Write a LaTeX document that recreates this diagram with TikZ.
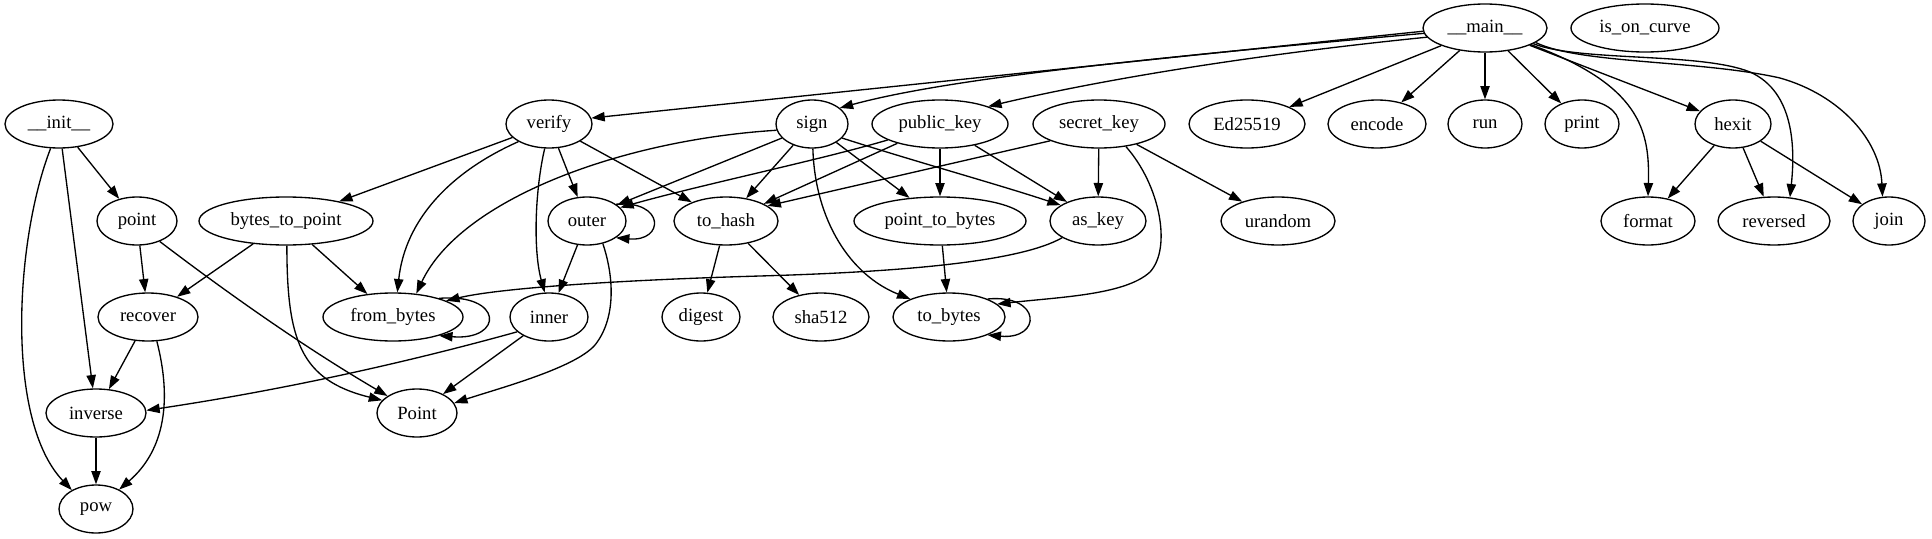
\documentclass[tikz,border=0pt]{standalone}
\usepackage{fontspec}
\setmainfont{Liberation Serif}
\usetikzlibrary{shapes.geometric,arrows.meta}
\begin{document}
\begin{tikzpicture}[x=0.75pt,y=-0.75pt,
  nd/.style={ellipse,draw,line width=1pt,inner sep=0pt,minimum height=36pt,font=\fontsize{14}{16}\selectfont},
  ed/.style={line width=1pt,-{Triangle[length=10pt,width=7pt]}}]
\useasboundingbox (0,0) rectangle (1932,539);
% nodes
\node[nd,minimum width=81pt]   (init)      at (59,124)  {\_\_init\_\_};
\node[nd,minimum width=60pt]   (pointf)    at (137,221) {point};
\node[nd,minimum width=130.5pt](btp)       at (286,221) {bytes\_to\_point};
\node[nd,minimum width=75pt]   (recover)   at (148,317) {recover};
\node[nd,minimum width=105pt]  (frombytes) at (393,317) {from\_bytes};
\node[nd,minimum width=75pt]   (inverse)   at (96,413)  {inverse};
\node[nd,minimum width=60pt]   (PointC)    at (417,413) {Point};
\node[nd,minimum width=55.5pt] (pow)       at (96,509)  {pow};
\node[nd,minimum width=64.5pt] (verify)    at (549,124) {verify};
\node[nd,minimum width=54pt]   (sign)      at (812,124) {sign};
\node[nd,minimum width=102pt]  (pubkey)    at (940,124) {public\_key};
\node[nd,minimum width=58.5pt] (outer)     at (587,221) {outer};
\node[nd,minimum width=78pt]   (tohash)    at (726,221) {to\_hash};
\node[nd,minimum width=129pt]  (ptb)       at (940,221) {point\_to\_bytes};
\node[nd,minimum width=58.5pt] (inner)     at (549,317) {inner};
\node[nd,minimum width=58.5pt] (digest)    at (701,317) {digest};
\node[nd,minimum width=72pt]   (sha)       at (821,317) {sha512};
\node[nd,minimum width=84pt]   (tobytes)   at (949,317) {to\_bytes};
\node[nd,minimum width=99pt]   (seckey)    at (1099,124) {secret\_key};
\node[nd,minimum width=87pt]   (ed)        at (1247,124) {Ed25519};
\node[nd,minimum width=73.5pt] (encode)    at (1377,124) {encode};
\node[nd,minimum width=72pt]   (askey)     at (1098,221) {as\_key};
\node[nd,minimum width=85.5pt] (urandom)   at (1278,221) {urandom};
\node[nd,minimum width=93pt]   (main)      at (1485,28)  {\_\_main\_\_};
\node[nd,minimum width=111pt]  (ioc)       at (1645,28)  {is\_on\_curve};
\node[nd,minimum width=55.5pt] (run)       at (1485,124) {run};
\node[nd,minimum width=55.5pt] (print)     at (1582,124) {print};
\node[nd,minimum width=57pt]   (hexit)     at (1733,124) {hexit};
\node[nd,minimum width=70.5pt] (format)    at (1648,221) {format};
\node[nd,minimum width=84pt]   (reversed)  at (1774,221) {reversed};
\node[nd,minimum width=54pt]   (join)      at (1889,221) {join};
% straight edges
\draw[ed] (init) -- (pointf);
\draw[ed] (init) -- (inverse);
\draw[ed] (pointf) -- (recover);
\draw[ed] (btp) -- (recover);
\draw[ed] (btp) -- (frombytes);
\draw[ed] (recover) -- (inverse);
\draw[ed] (inverse) -- (pow);
\draw[ed] (inner) -- (PointC);
\draw[ed] (outer) -- (inner);
\draw[ed] (verify) -- (btp);
\draw[ed] (verify) -- (outer);
\draw[ed] (verify) -- (tohash);
\draw[ed] (sign) -- (tohash);
\draw[ed] (pubkey) -- (tohash);
\draw[ed] (sign) -- (ptb);
\draw[ed] (pubkey) -- (ptb);
\draw[ed] (pubkey) -- (askey);
\draw[ed] (seckey) -- (askey);
\draw[ed] (ptb) -- (tobytes);
\draw[ed] (tohash) -- (digest);
\draw[ed] (tohash) -- (sha);
\draw[ed] (seckey) -- (urandom);
\draw[ed] (main) -- (ed);
\draw[ed] (main) -- (encode);
\draw[ed] (main) -- (run);
\draw[ed] (main) -- (print);
\draw[ed] (main) -- (hexit);
\draw[ed] (hexit) -- (format);
\draw[ed] (hexit) -- (reversed);
\draw[ed] (hexit) -- (join);
% curved / anchored edges
\draw[ed] (init.-109) .. controls (15,240) and (5,420) .. (pow.142);
\draw[ed] (recover.-70) .. controls (172,400) and (165,450) .. (pow.40);
\draw[ed] (btp.-88) .. controls (287,340) and (300,380) .. (PointC.160);
\draw[ed] (pointf.-42) .. controls (234,298) and (309,350) .. (PointC.150);
\draw[ed] (inner.-155) .. controls (394,366) and (270,392) .. (inverse.3);
\draw[ed] (outer.-55) .. controls (615,280) and (615,320) .. (595,345) .. controls (575,368) and (500,388) .. (PointC.15);
\draw[ed] (outer.30) .. controls (665,200) and (665,242) .. (outer.-30);
\draw[ed] (frombytes.22) .. controls (504,293) and (504,341) .. (frombytes.-22);
\draw[ed] (tobytes.25) .. controls (1042,294) and (1042,340) .. (tobytes.-25);
\draw[ed] (verify.-150) .. controls (450,172) and (405,220) .. (frombytes.80);
\draw[ed] (verify.-100) .. controls (535,190) and (533,250) .. (inner.100);
\draw[ed] (sign.-170) .. controls (620,140) and (460,200) .. (frombytes.45);
\draw[ed] (sign.-155) -- (outer.28);
\draw[ed] (pubkey.-163) .. controls (820,160) and (700,185) .. (outer.22);
\draw[ed] (seckey.-161) -- (tohash.20);
\draw[ed] (sign.-25) .. controls (910,160) and (1000,185) .. (askey.157);
\draw[ed] (sign.-88) .. controls (815,220) and (850,275) .. (tobytes.155);
\draw[ed] (seckey.-40) .. controls (1160,185) and (1172,248) .. (1150,272) .. controls (1125,295) and (1060,297) .. (tobytes.15);
\draw[ed] (askey.-155) .. controls (1020,262) and (900,272) .. (760,276) .. controls (620,280) and (500,288) .. (frombytes.17);
\draw[ed] (main.-177) -- (verify.8);
\draw[ed] (main.-175) .. controls (1150,58) and (950,78) .. (sign.30);
\draw[ed] (main.-171) .. controls (1250,55) and (1100,80) .. (pubkey.20);
\draw[ed] (main.-20) .. controls (1640,85) and (1650,130) .. (format.90);
\draw[ed] (main.-18) .. controls (1580,62) and (1700,52) .. (1750,72) .. controls (1795,92) and (1795,150) .. (reversed.56);
\draw[ed] (main.-16) .. controls (1580,64) and (1700,60) .. (1780,78) .. controls (1840,95) and (1880,140) .. (join.105);
\end{tikzpicture}
\end{document}
